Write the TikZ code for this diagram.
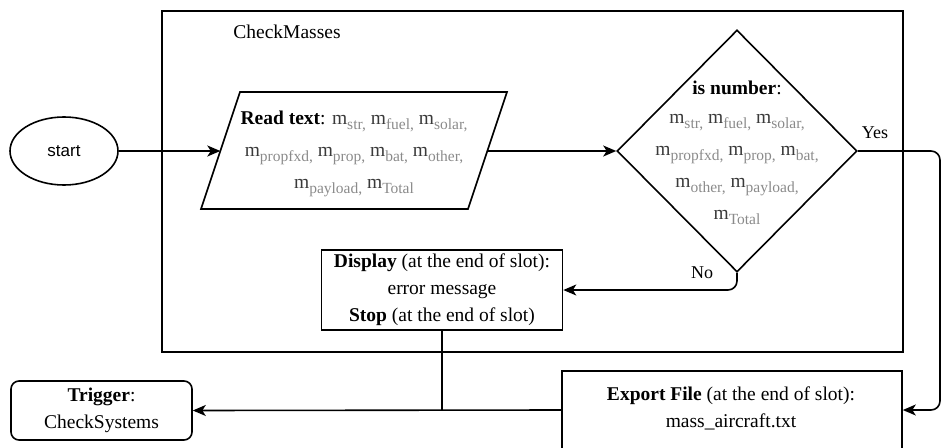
\documentclass[tikz,border=0pt]{standalone}
\usepackage{fontspec}
\setmainfont{Liberation Serif}
\newfontfamily\startfont{Liberation Sans}
\usetikzlibrary{shapes.geometric,arrows.meta,calc}
\definecolor{subgray}{HTML}{8A8A8A}
\definecolor{mgray}{HTML}{3A3A3A}
\newcommand\msub[1]{{\color{mgray}m}\raisebox{-0.28em}{\fontsize{15.5}{16}\selectfont\color{subgray}#1}}
\tikzset{
  line/.style={line width=1.6pt, draw=black},
  arr/.style={line, -{Stealth[length=13pt,width=11pt,inset=3.5pt]}},
  txt/.style={font=\fontsize{19.5}{27}\selectfont, align=center, inner sep=0pt},
  subtxt/.style={font=\fontsize{19.5}{32}\selectfont, align=center, inner sep=0pt},
  boxshape/.style={draw, line width=1.6pt, inner sep=0pt},
}
\begin{document}
\begin{tikzpicture}[x=1pt,y=-1pt]
\useasboundingbox (0,0) rectangle (944,447);
% container
\node[boxshape, minimum width=741pt, minimum height=341pt, anchor=north west] (cont) at (161,10) {};
\node[txt] (contlbl) at (287,32) {CheckMasses};
% start
\node[ellipse, draw, line width=1.6pt, minimum width=108pt, minimum height=68pt, inner sep=0pt,
      font=\startfont\fontsize{17}{20}\selectfont] (start) at (64,151) {start};
% read text parallelogram
\coordinate (rbl) at (201,209);
\coordinate (rtl) at (240,92);
\coordinate (rtr) at (507,92);
\coordinate (rbr) at (468,209);
\draw[line, line join=miter] (rbl) -- (rtl) -- (rtr) -- (rbr) -- cycle;
\coordinate (readwest) at (220.3,151);
\coordinate (readeast) at (487.3,151);
\node[subtxt] (readtxt) at (354,154) {\textbf{Read text}: \msub{str,} \msub{fuel,} \msub{solar,}\\
  \msub{propfxd,} \msub{prop,} \msub{bat,} \msub{other,}\\
  \msub{payload,} \msub{Total}};
% decision
\node[diamond, draw, line width=1.6pt, minimum width=240pt, minimum height=242pt, inner sep=0pt] (dec) at (737,151) {};
\node[subtxt] (dectxt) at (737,153) {\textbf{is number}:\\[-3pt]
  \msub{str,} \msub{fuel,} \msub{solar,}\\
  \msub{propfxd,} \msub{prop,} \msub{bat,}\\
  \msub{other,} \msub{payload,}\\
  \msub{Total}};
% display
\node[boxshape, minimum width=241pt, minimum height=80pt] (disp) at (442,290) {};
\node[txt] (disptxt) at (disp.center) {\textbf{Display} (at the end of slot):\\ error message\\ \textbf{Stop} (at the end of slot)};
% export
\node[boxshape, minimum width=340pt, minimum height=78pt] (export) at (732,410) {};
\node[txt] (exporttxt) at (731,408) {\textbf{Export File} (at the end of slot):\\ mass\_aircraft.txt};
% trigger
\node[draw, line width=1.6pt, rounded corners=8pt, minimum width=181pt, minimum height=59pt, inner sep=0pt] (trig) at (101.5,410.5) {};
\node[txt] (trigtxt) at (trig.center) {\textbf{Trigger}:\\ CheckSystems};
% connectors
\coordinate (yescorner) at (940,151);
\draw[arr] (start.east) -- (readwest);
\draw[arr] (readeast) -- (dec.west);
\draw[arr, rounded corners=9pt] (dec.east) -- (yescorner) |- (export.east);
\draw[arr, rounded corners=9pt] (dec.south) |- (disp.east);
\draw[arr] (export.west) -- (trig.east);
\draw[line] (disp.south) -- (disp.south |- export.west);
% labels
\node[font=\fontsize{18}{22}\selectfont, inner sep=0pt] (yeslbl) at (875,133) {Yes};
\node[font=\fontsize{18}{22}\selectfont, inner sep=0pt] (nolbl) at (702,273) {No};
\end{tikzpicture}
\end{document}
